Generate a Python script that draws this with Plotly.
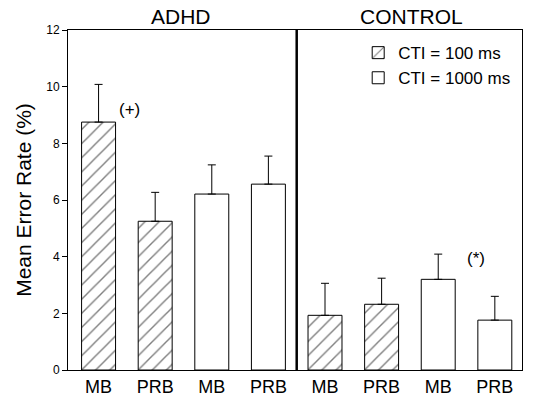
import plotly.graph_objects as go

categories = ["MB", "PRB", "MB", "PRB", "MB", "PRB", "MB", "PRB"]
groups = ["ADHD", "CONTROL"]

# CTI = 100 ms bars (positions 0,1 in ADHD and 4,5 in CONTROL)
cti100_pos = [0, 1, 4, 5]
cti100_vals = [8.75, 5.25, 1.93, 2.32]
cti100_err = [1.33, 1.02, 1.13, 0.92]

# CTI = 1000 ms bars (positions 2,3 in ADHD and 6,7 in CONTROL)
cti1000_pos = [2, 3, 6, 7]
cti1000_vals = [6.21, 6.56, 3.20, 1.76]
cti1000_err = [1.03, 0.99, 0.89, 0.84]

y_ticks = [0, 2, 4, 6, 8, 10, 12]

fig = go.Figure()
fig.add_trace(go.Bar(
    x=cti100_pos, y=cti100_vals, name="CTI = 100 ms", width=0.6,
    marker=dict(color="white", line=dict(color="black", width=1),
                pattern=dict(shape="/", fgcolor="black", bgcolor="white", size=10, solidity=0.14)),
    error_y=dict(type="data", array=cti100_err, symmetric=False, arrayminus=[0]*4,
                 color="black", thickness=1, width=4),
))
fig.add_trace(go.Bar(
    x=cti1000_pos, y=cti1000_vals, name="CTI = 1000 ms", width=0.6,
    marker=dict(color="white", line=dict(color="black", width=1)),
    error_y=dict(type="data", array=cti1000_err, symmetric=False, arrayminus=[0]*4,
                 color="black", thickness=1, width=4),
))

fig.add_shape(type="line", xref="x", yref="paper", x0=3.5, x1=3.5, y0=0, y1=1,
              line=dict(color="black", width=2.5))

fig.add_annotation(x=1.45, y=1.0, xref="x", yref="paper", yanchor="bottom", yshift=0,
                   text=groups[0], showarrow=False, font=dict(size=21, color="black"))
fig.add_annotation(x=5.53, y=1.0, xref="x", yref="paper", yanchor="bottom", yshift=0,
                   text=groups[1], showarrow=False, font=dict(size=21, color="black"))
fig.add_annotation(x=0.54, y=9.18, xref="x", yref="y",
                   text="(+)", showarrow=False, font=dict(size=17, color="black"))
fig.add_annotation(x=6.67, y=3.92, xref="x", yref="y",
                   text="(*)", showarrow=False, font=dict(size=17, color="black"))

fig.update_layout(
    width=537, height=399,
    margin=dict(l=68, r=15, t=30, b=29, autoexpand=False),
    paper_bgcolor="white", plot_bgcolor="white",
    font=dict(family="Liberation Sans, Arial, sans-serif", color="black"),
    showlegend=True,
    legend=dict(x=0.985, y=0.985, xanchor="right", yanchor="top", bgcolor="rgba(0,0,0,0)",
                font=dict(size=17), itemwidth=30, tracegroupgap=0),
    bargap=0.4,
)
fig.update_xaxes(range=[-0.54, 7.48], tickmode="array", tickvals=list(range(8)),
                 ticktext=categories, showgrid=False, zeroline=False, automargin=False,
                 showline=True, linecolor="black", linewidth=1, mirror=True,
                 ticks="", tickfont=dict(size=18, color="black"))
fig.update_yaxes(range=[0, 12], tickmode="array", tickvals=y_ticks, showgrid=False,
                 zeroline=False, showline=True, linecolor="black", linewidth=1, mirror=True,
                 ticks="outside", ticklen=5, tickcolor="black", automargin=False,
                 tickfont=dict(size=12, color="black"),
                 title=dict(text="Mean Error Rate (%)", font=dict(size=21), standoff=8))

# remove the default 8px page margin so the figure fills the window exactly
fig.write_html("out.html", config={"displayModeBar": False},
               post_script="document.body.style.margin='0px';")
